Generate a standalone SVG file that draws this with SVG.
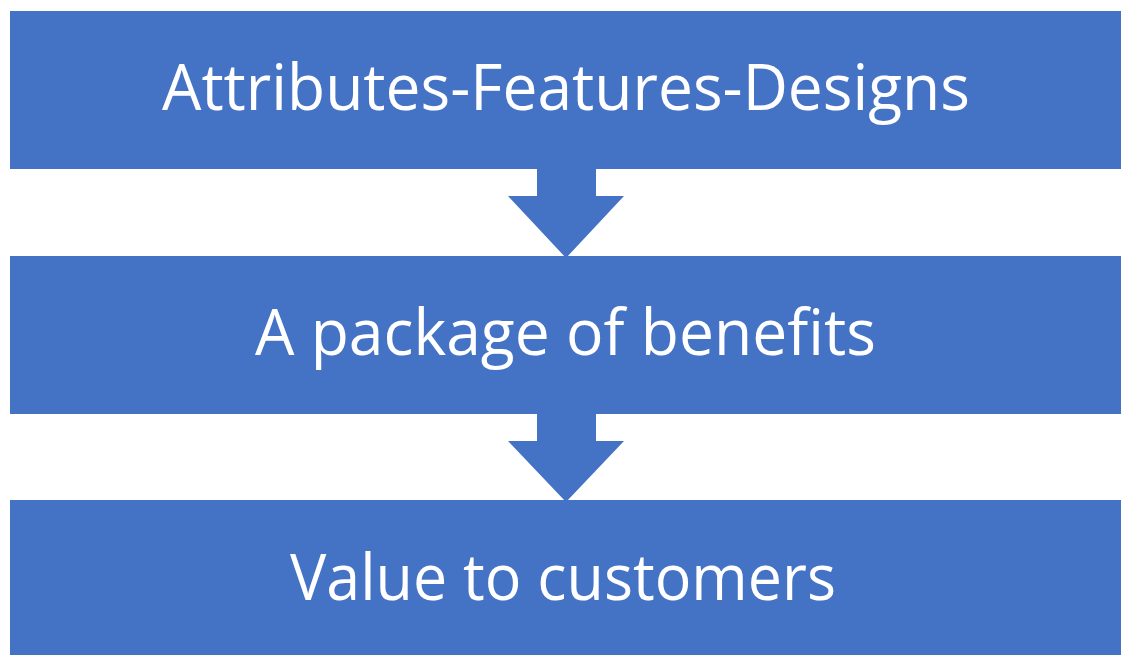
<svg xmlns="http://www.w3.org/2000/svg" width="1121" height="655" viewBox="0 0 1121 655">
<style>
.box{fill:#4472C4}
.arrow{fill:#4472C4}
.lbl{font-family:"Open Sans","Noto Sans","Liberation Sans",sans-serif;font-size:64px;fill:#ffffff}
</style>
<rect width="1121" height="655" fill="#ffffff"/>
<g id="connectors">
<polygon class="arrow" points="537,165 596,165 596,196 624,196 566,258 508,196 537,196"/>
<polygon class="arrow" points="537,410 596,410 596,441 624,441 566,502 508,441 537,441"/>
</g>
<g id="node1">
<rect class="box" x="10" y="11" width="1111" height="158"/>
<text class="lbl" x="162" y="110" textLength="808" lengthAdjust="spacingAndGlyphs">Attributes-Features-Designs</text>
</g>
<g id="node2">
<rect class="box" x="10" y="256" width="1111" height="158"/>
<text class="lbl" x="255" y="355" textLength="621" lengthAdjust="spacingAndGlyphs">A package of benefits</text>
</g>
<g id="node3">
<rect class="box" x="10" y="500" width="1111" height="155"/>
<text class="lbl" x="290" y="600" textLength="546" lengthAdjust="spacingAndGlyphs">Value to customers</text>
</g>
</svg>
